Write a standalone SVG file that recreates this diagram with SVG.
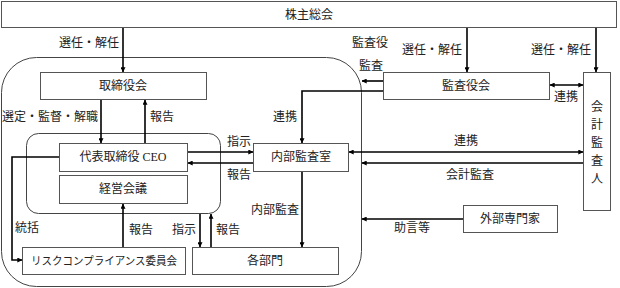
<svg xmlns="http://www.w3.org/2000/svg" width="620" height="288" viewBox="0 0 620 288">
<defs>
<marker id="ah" viewBox="0 0 8 8" refX="7.5" refY="4" markerWidth="5" markerHeight="5" orient="auto-start-reverse" markerUnits="userSpaceOnUse">
<path d="M0,0 L8,4 L0,8 z" fill="#000"/>
</marker>
<style>
.box{fill:#fff;stroke:#555;stroke-width:1}
.frame{fill:none;stroke:#444;stroke-width:1}
.t{font-family:"Liberation Serif","Noto Sans CJK JP",serif;font-size:12px;fill:#222;text-anchor:middle;dominant-baseline:central}
.c{fill:none;stroke:#000;stroke-width:1.6}
</style>
</defs>
<rect width="620" height="288" fill="#fff"/>
<g id="frames">
<rect class="frame" x="1.5" y="57.5" width="360" height="229" rx="35" ry="35"/>
<rect class="frame" x="26.5" y="133.5" width="194" height="80" rx="12" ry="12"/>
</g>
<g id="n-shareholders"><rect class="box" x="1.5" y="1.5" width="615" height="26"/><text class="t" x="309" y="15">株主総会</text></g>
<g id="n-board"><rect class="box" x="40.5" y="72.5" width="166" height="27"/><text class="t" x="123" y="86">取締役会</text></g>
<g id="n-ceo"><rect class="box" x="59.5" y="143.5" width="128" height="28"/><text class="t" x="123" y="157">代表取締役 CEO</text></g>
<g id="n-mgmt"><rect class="box" x="59.5" y="175.5" width="128" height="28"/><text class="t" x="123" y="189">経営会議</text></g>
<g id="n-internal"><rect class="box" x="253.5" y="143.5" width="95" height="28"/><text class="t" x="301" y="157">内部監査室</text></g>
<g id="n-auditboard"><rect class="box" x="383.5" y="72.5" width="166" height="27"/><text class="t" x="466" y="86">監査役会</text></g>
<g id="n-accountant"><rect class="box" x="583.5" y="72.5" width="27" height="138"/>
<text class="t" x="597" y="107">会</text><text class="t" x="597" y="125">計</text><text class="t" x="597" y="143">監</text><text class="t" x="597" y="161">査</text><text class="t" x="597" y="179">人</text></g>
<g id="n-external"><rect class="box" x="463.5" y="205.5" width="94" height="27"/><text class="t" x="510" y="219">外部専門家</text></g>
<g id="n-risk"><rect class="box" x="22.5" y="247.5" width="163" height="27"/><text class="t" x="104" y="261" style="font-size:11px" textLength="146" lengthAdjust="spacingAndGlyphs">リスクコンプライアンス委員会</text></g>
<g id="n-depts"><rect class="box" x="192.5" y="247.5" width="146" height="27"/><text class="t" x="265" y="261">各部門</text></g>
<g id="connectors">
<line class="c" x1="123" y1="28" x2="123" y2="72" marker-end="url(#ah)"/>
<line class="c" x1="467" y1="28" x2="467" y2="72" marker-end="url(#ah)"/>
<line class="c" x1="596" y1="28" x2="596" y2="72" marker-end="url(#ah)"/>
<line class="c" x1="101" y1="100" x2="101" y2="143" marker-end="url(#ah)"/>
<line class="c" x1="145" y1="143" x2="145" y2="100" marker-end="url(#ah)"/>
<line class="c" x1="188" y1="152" x2="253" y2="152" marker-end="url(#ah)"/>
<line class="c" x1="253" y1="163" x2="188" y2="163" marker-end="url(#ah)"/>
<polyline class="c" points="383,91 302,91 302,143" marker-end="url(#ah)"/>
<line class="c" x1="383" y1="81" x2="362" y2="81" marker-end="url(#ah)"/>
<line class="c" x1="550" y1="85" x2="583" y2="85" marker-start="url(#ah)" marker-end="url(#ah)"/>
<line class="c" x1="349" y1="152" x2="583" y2="152" marker-start="url(#ah)" marker-end="url(#ah)"/>
<line class="c" x1="583" y1="163" x2="362" y2="163" marker-end="url(#ah)"/>
<line class="c" x1="463" y1="219" x2="362" y2="219" marker-end="url(#ah)"/>
<line class="c" x1="302" y1="172" x2="302" y2="247" marker-end="url(#ah)"/>
<polyline class="c" points="59,157 12,157 12,260 22,260" marker-end="url(#ah)"/>
<line class="c" x1="123" y1="247" x2="123" y2="204" marker-end="url(#ah)"/>
<line class="c" x1="200" y1="214" x2="200" y2="247" marker-end="url(#ah)"/>
<line class="c" x1="211" y1="247" x2="211" y2="214" marker-end="url(#ah)"/>
</g>
<g id="labels">
<text class="t" x="89" y="43">選任・解任</text>
<text class="t" x="432" y="50">選任・解任</text>
<text class="t" x="561" y="50">選任・解任</text>
<text class="t" x="370" y="43">監査役</text>
<text class="t" x="371" y="66">監査</text>
<text class="t" x="50" y="117">選定・監督・解職</text>
<text class="t" x="162" y="117">報告</text>
<text class="t" x="285" y="117">連携</text>
<text class="t" x="566" y="97">連携</text>
<text class="t" x="239" y="142">指示</text>
<text class="t" x="239" y="175">報告</text>
<text class="t" x="466" y="141">連携</text>
<text class="t" x="470" y="175">会計監査</text>
<text class="t" x="412" y="228">助言等</text>
<text class="t" x="275" y="210">内部監査</text>
<text class="t" x="27" y="228">統括</text>
<text class="t" x="141" y="230">報告</text>
<text class="t" x="184" y="230">指示</text>
<text class="t" x="228" y="230">報告</text>
</g>
</svg>
